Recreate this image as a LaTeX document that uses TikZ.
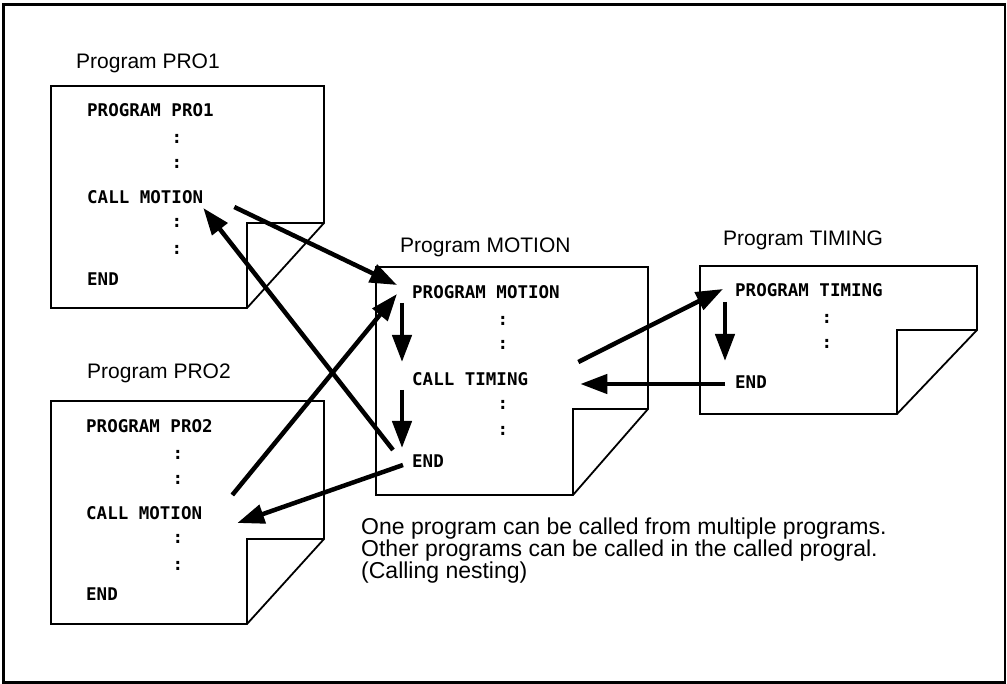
\documentclass[tikz,border=0pt]{standalone}
\usepackage{fontspec}
\setmainfont{Liberation Sans}
\newfontfamily\codefont{DejaVu Sans Mono}
\usetikzlibrary{
  calc,
  positioning,
  arrows.meta
}

\begin{document}
\begin{tikzpicture}[x=1pt,y=-1pt,>={Triangle[length=27pt,width=19pt]}]
  \tikzset{
    page/.style={draw,line width=1.8pt,fill=white,line join=miter},
    flap/.style={draw,line width=1.8pt},
    code/.style={font=\codefont\bfseries\fontsize{17.5}{17.5}\selectfont,inner sep=0pt,anchor=west},
    dots/.style={font=\codefont\bfseries\fontsize{17.5}{17.5}\selectfont,inner sep=0pt},
    title/.style={font=\fontsize{21}{21}\selectfont,inner sep=0pt,anchor=base west},
    note/.style={font=\fontsize{23}{23}\selectfont,inner sep=0pt,anchor=base west},
    callarrow/.style={->,line width=4.5pt},
  }
  \useasboundingbox (0,0) rectangle (1007,684);
  \draw[line width=2.5pt] (3.5,4.5) rectangle (1005,682.5);

  % pages with a folded corner
  \foreach \l/\t/\r/\b/\fx/\fy in {51/86/324/308/247/223, 51/401/324/624/247/539,
                                   376/267/648/495/573/409, 700/266/977/414/897/330} {
    \draw[page] (\l,\t) -- (\r,\t) -- (\r,\fy) -- (\fx,\b) -- (\l,\b) -- cycle;
    \draw[flap] (\r,\fy) -- (\fx,\fy) -- (\fx,\b);
  }

  \node[title] (t1) at (76,69) {Program PRO1};
  \node[title] (t2) at (87,379) {Program PRO2};
  \node[title] (tm) at (400,253) {Program MOTION};
  \node[title] (tt) at (723,246) {Program TIMING};

  % PRO1
  \node[code] (p1head) at (87,110) {PROGRAM PRO1};
  \node[code] (p1call) at (87,197) {CALL MOTION};
  \node[code] (p1end)  at (87,279) {END};
  \foreach \y [count=\i] in {139,164,223,250}
    \node[dots] (p1dot\i) at (177,\y) {:};

  % PRO2
  \node[code] (p2head) at (86,426) {PROGRAM PRO2};
  \node[code] (p2call) at (86,513) {CALL MOTION};
  \node[code] (p2end)  at (86,594) {END};
  \foreach \y [count=\i] in {455,480,539,566}
    \node[dots] (p2dot\i) at (178,\y) {:};

  % MOTION
  \node[code] (mhead) at (412,292) {PROGRAM MOTION};
  \node[code] (mcall) at (412,379) {CALL TIMING};
  \node[code] (mend)  at (412,461) {END};
  \foreach \y [count=\i] in {321,345,405,431}
    \node[dots] (mdot\i) at (503,\y) {:};

  % TIMING
  \node[code] (thead) at (735,290) {PROGRAM TIMING};
  \node[code] (tend)  at (735,382) {END};
  \foreach \y [count=\i] in {319,344}
    \node[dots] (tdot\i) at (827,\y) {:};

  % calls and returns
  \draw[callarrow] ($(p1call.east)+(31,10)$) -- ($(mhead.west)+(-15,-7)$);
  \draw[callarrow] ($(mend.west)+(-19,-11)$) -- ($(p1call.east)+(0,11)$);
  \draw[callarrow] ($(p2call.east)+(30,-18)$) -- ($(mhead.west)+(-15,2)$);
  \draw[callarrow] ($(mend.west)+(-9,4)$) -- ($(p2call.east)+(35,10)$);
  \draw[callarrow] ($(mcall.east)+(50,-17)$) -- ($(thead.west)+(-12,-1)$);
  \draw[callarrow] ($(tend.west)+(-10,2)$) -- ($(mcall.east)+(52,5)$);

  % flow inside a program
  \draw[callarrow] ($(mhead.west)+(-10,11)$) -- ($(mcall.west)+(-10,-17)$);
  \draw[callarrow] ($(mcall.west)+(-10,11)$) -- ($(mend.west)+(-10,-13)$);
  \draw[callarrow] ($(thead.west)+(-10,12)$) -- ($(tend.west)+(-10,-21)$);

  \node[note] (n1) at (361,534.3) {One program can be called from multiple programs.};
  \node[note] (n2) at (361,556.7) {Other programs can be called in the called progral.};
  \node[note] (n3) at (361,578.5) {(Calling nesting)};
\end{tikzpicture}
\end{document}
